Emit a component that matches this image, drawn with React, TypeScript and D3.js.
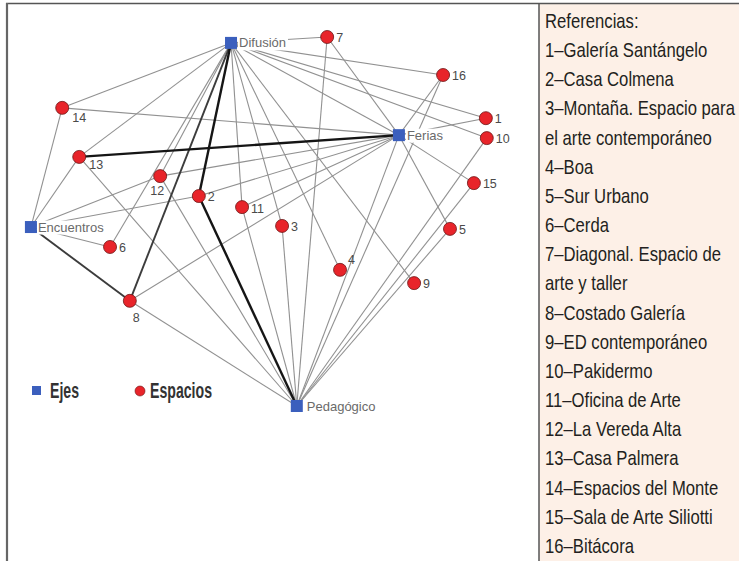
import React, { useRef, useEffect } from "react";
import * as d3 from "d3";

const W = 739;
const H = 561;

// Ejes (hubs), layout coordinates 0-100
const hubIds = ["Difusión", "Ferias", "Encuentros", "Pedagógico"];
const hubX = [43.7, 80.2, 0.2, 58.0];
const hubY = [1.6, 26.6, 51.5, 100];

// Espacios 1..16, layout coordinates 0-100
const spaceIds = ["1", "2", "3", "4", "5", "6", "7", "8", "9", "10", "11", "12", "13", "14", "15", "16"];
const spaceX = [99.1, 36.7, 54.8, 67.4, 91.3, 17.4, 64.6, 21.7, 83.5, 99.3, 46.1, 28.3, 10.7, 7.0, 96.5, 89.8];
const spaceY = [22.0, 43.1, 51.2, 63.1, 52.0, 56.9, 0, 71.5, 66.7, 27.4, 46.1, 37.7, 32.5, 19.2, 39.6, 10.3];
const spaceNames = [
  "Galería Santángelo",
  "Casa Colmena",
  "Montaña. Espacio para|el arte contemporáneo",
  "Boa",
  "Sur Urbano",
  "Cerda",
  "Diagonal. Espacio de|arte y taller",
  "Costado Galería",
  "ED contemporáneo",
  "Pakidermo",
  "Oficina de Arte",
  "La Vereda Alta",
  "Casa Palmera",
  "Espacios del Monte",
  "Sala de Arte Siliotti",
  "Bitácora",
];

// links: [eje, espacio, strength 1..3]
const links: [string, string, number][] = [
  ["Difusión", "7", 1], ["Difusión", "14", 1], ["Difusión", "13", 1], ["Difusión", "12", 1],
  ["Difusión", "6", 1], ["Difusión", "8", 2], ["Difusión", "2", 3], ["Difusión", "11", 1],
  ["Difusión", "3", 1], ["Difusión", "4", 1], ["Difusión", "9", 1], ["Difusión", "Ferias", 1],
  ["Difusión", "16", 1], ["Difusión", "1", 1], ["Difusión", "10", 1],
  ["Ferias", "14", 1], ["Ferias", "13", 3], ["Ferias", "12", 1], ["Ferias", "2", 1],
  ["Ferias", "11", 1], ["Ferias", "8", 1], ["Ferias", "7", 1], ["Ferias", "16", 1],
  ["Ferias", "1", 1], ["Ferias", "15", 1], ["Ferias", "5", 1], ["Ferias", "Pedagógico", 1],
  ["Encuentros", "14", 1], ["Encuentros", "13", 1], ["Encuentros", "12", 1], ["Encuentros", "2", 1],
  ["Encuentros", "6", 1], ["Encuentros", "8", 2],
  ["Pedagógico", "8", 1], ["Pedagógico", "13", 1], ["Pedagógico", "12", 1], ["Pedagógico", "2", 3],
  ["Pedagógico", "11", 1], ["Pedagógico", "3", 1], ["Pedagógico", "7", 1], ["Pedagógico", "16", 1],
  ["Pedagógico", "10", 1], ["Pedagógico", "15", 1], ["Pedagógico", "5", 1],
];

const legendTitle = "Referencias:";
const legendKeys = ["Ejes", "Espacios"];

const font = "'Liberation Sans', Arial, sans-serif";

export default function App() {
  const ref = useRef<SVGSVGElement>(null);

  useEffect(() => {
    const svg = d3.select(ref.current);
    svg.selectAll("*").remove();

    const x = d3.scaleLinear().domain([0, 100]).range([30, 490]);
    const y = d3.scaleLinear().domain([0, 100]).range([37, 406]);

    const nodes = new Map<string, any>();
    hubIds.forEach((id, i) => nodes.set(id, { id, hub: true, x: x(hubX[i]), y: y(hubY[i]) }));
    spaceIds.forEach((id, i) => nodes.set(id, { id, hub: false, x: x(spaceX[i]), y: y(spaceY[i]) }));

    // frame + reference panel
    svg.append("rect").attr("x", 539).attr("y", 3).attr("width", W - 539).attr("height", H - 3).attr("fill", "#fdf0e7");
    svg.append("line").attr("x1", 6).attr("x2", W).attr("y1", 3.5).attr("y2", 3.5).attr("stroke", "#555").attr("stroke-width", 1.5);
    svg.append("line").attr("x1", 7).attr("x2", 7).attr("y1", 3).attr("y2", H).attr("stroke", "#666").attr("stroke-width", 2.2);
    svg.append("line").attr("x1", 539).attr("x2", 539).attr("y1", 3).attr("y2", H).attr("stroke", "#555").attr("stroke-width", 1.5);

    // links
    const color = (w: number) => (w === 3 ? "#151515" : w === 2 ? "#3c3c3c" : "#919191");
    const width = (w: number) => (w === 3 ? 2.4 : w === 2 ? 1.9 : 1.1);
    svg.append("g")
      .selectAll("line")
      .data([...links].sort((a, b) => a[2] - b[2]))
      .join("line")
      .attr("x1", d => nodes.get(d[0]).x)
      .attr("y1", d => nodes.get(d[0]).y)
      .attr("x2", d => nodes.get(d[1]).x)
      .attr("y2", d => nodes.get(d[1]).y)
      .attr("stroke", d => color(d[2]))
      .attr("stroke-width", d => width(d[2]));

    // hub labels on white background
    const hubLabel = svg.append("g");
    hubIds.forEach(id => {
      const n = nodes.get(id);
      const dx = id === "Pedagógico" ? 10 : id === "Encuentros" ? 7 : 8;
      const t = hubLabel.append("text")
        .attr("x", n.x + dx)
        .attr("y", n.y + 4.5)
        .attr("font-family", font)
        .attr("font-size", 13)
        .attr("fill", "#6a6a6a")
        .text(id);
      const b = (t.node() as SVGTextElement).getBBox();
      hubLabel.insert("rect", "text")
        .attr("x", b.x - 1).attr("y", b.y + 1).attr("width", b.width + 3).attr("height", b.height - 1)
        .attr("fill", "#fff");
    });

    // hubs
    svg.append("g")
      .selectAll("rect")
      .data(hubIds.map(id => nodes.get(id)))
      .join("rect")
      .attr("x", d => d.x - 6)
      .attr("y", d => d.y - 6)
      .attr("width", 12)
      .attr("height", 12)
      .attr("fill", "#3b5fbd");

    // espacios
    const sp = svg.append("g")
      .selectAll("g")
      .data(spaceIds.map(id => nodes.get(id)))
      .join("g")
      .attr("transform", d => `translate(${d.x},${d.y})`);
    sp.append("circle")
      .attr("r", 6.5)
      .attr("fill", "#e8242a")
      .attr("stroke", "#6b1515")
      .attr("stroke-width", 0.8);

    const place: Record<string, [number, number]> = {
      "14": [10, 14], "13": [10, 12], "12": [-10, 19], "8": [3, 21], "4": [8, -6], "11": [9, 6],
    };
    sp.append("text")
      .attr("x", d => (place[d.id] ? place[d.id][0] : 9))
      .attr("y", d => (place[d.id] ? place[d.id][1] : 5))
      .attr("font-family", font)
      .attr("font-size", 12.5)
      .attr("fill", "#4a4a4a")
      .text(d => d.id);

    // legend Ejes / Espacios
    const lg = svg.append("g").attr("font-family", font).attr("font-weight", "bold").attr("font-size", 22).attr("fill", "#333");
    lg.append("rect").attr("x", 32).attr("y", 386).attr("width", 9).attr("height", 9).attr("fill", "#3b5fbd");
    lg.append("text").attr("x", 50).attr("y", 398).attr("textLength", 29).attr("lengthAdjust", "spacingAndGlyphs").text(legendKeys[0]);
    lg.append("circle").attr("cx", 140).attr("cy", 391).attr("r", 5).attr("fill", "#e8242a").attr("stroke", "#6b1515").attr("stroke-width", 0.6);
    lg.append("text").attr("x", 150).attr("y", 398).attr("textLength", 62).attr("lengthAdjust", "spacingAndGlyphs").text(legendKeys[1]);

    // references panel
    const rows: string[] = [legendTitle];
    spaceNames.forEach((name, i) => {
      const parts = name.split("|");
      rows.push(`${spaceIds[i]}–${parts[0]}`);
      parts.slice(1).forEach(p => rows.push(p));
    });
    const rowY = d3.scalePoint<number>().domain(d3.range(rows.length)).range([28, 553]);
    const panel = svg.append("g");
    const texts = panel.selectAll("text")
      .data(rows)
      .join("text")
      .attr("x", 0)
      .attr("y", (_, i) => rowY(i)!)
      .attr("font-family", font)
      .attr("font-size", 20)
      .attr("fill", "#231f20")
      .text(d => d);
    const widest = d3.max(texts.nodes(), n => (n as SVGTextElement).getComputedTextLength()) || 1;
    panel.attr("transform", `translate(545,0) scale(${190 / widest},1)`);
  }, []);

  return (
    <svg
      ref={ref}
      width={W}
      height={H}
      style={{ position: "absolute", left: 0, top: 0, background: "#fff", display: "block" }}
    />
  );
}
